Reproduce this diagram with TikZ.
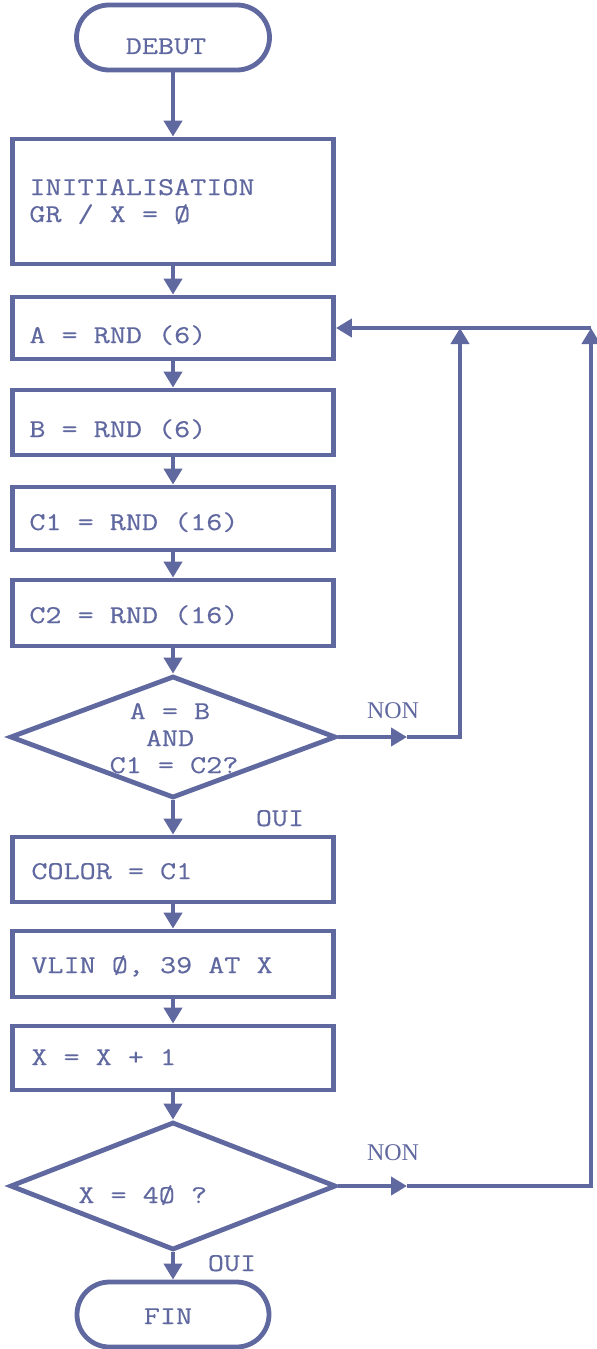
\documentclass[tikz,border=0pt]{standalone}
\usepackage{fontspec}
\newfontfamily\courfont[FakeStretch=1.22,FakeBold=0.4]{Latin Modern Mono}
\newfontfamily\nonfont{Liberation Serif}
\usetikzlibrary{arrows.meta,shapes.geometric,shapes.misc}
\definecolor{ink}{RGB}{96,104,160}
\begin{document}
\begin{tikzpicture}[x=0.5pt,y=-0.5pt,
  box/.style={draw=ink, line width=2.4pt, rectangle, minimum width=160.5pt, inner sep=0pt},
  stad/.style={draw=ink, line width=2.4pt, rounded rectangle, minimum width=96.5pt, minimum height=32.5pt, inner sep=0pt},
  dec/.style={draw=ink, line width=2.4pt, diamond, inner sep=0pt, minimum width=163pt},
  txt/.style={text=ink, font=\courfont\fontsize{12.8}{15}\selectfont, inner sep=0pt, anchor=base west},
  txtc/.style={txt, anchor=base},
  lab/.style={text=ink, font=\nonfont\fontsize{12}{14}\selectfont, inner sep=0pt, anchor=base},
  flow/.style={draw=ink, line width=2.4pt, line join=miter, -{Triangle[length=8pt,width=9pt]}}
]
\useasboundingbox (0,0) rectangle (597,1349);
% nodes
\node[stad] (debut) at (173,37.5) {};
\node[txtc] (tdebut) at (166,54) {DEBUT};
\node[box, minimum height=62.5pt] (init) at (173,201.5) {};
\node[txt] (tinit1) at (29,195) {INITIALISATION};
\node[txt] (tinit2) at (29,222) {GR / X = Ø};
\node[box, minimum height=31pt] (a) at (173,328) {};
\node[txt] (ta) at (29,343) {A = RND (6)};
\node[box, minimum height=32.5pt] (b) at (173,422.5) {};
\node[txt] (tb) at (29,437) {B = RND (6)};
\node[box, minimum height=31.5pt] (c1) at (173,518.5) {};
\node[txt] (tc1) at (29,530) {C1 = RND (16)};
\node[box, minimum height=33pt] (c2) at (173,613) {};
\node[txt] (tc2) at (29,623) {C2 = RND (16)};
\node[dec, minimum height=61pt] (d1) at (173,737) {};
\node[txtc] (td1a) at (170,719) {A = B};
\node[txtc] (td1b) at (170,746) {AND};
\node[txtc] (td1c) at (174,773) {C1 = C2?};
\node[box, minimum height=32.5pt] (color) at (173,869.5) {};
\node[txt] (tcolor) at (31,879) {COLOR = C1};
\node[box, minimum height=33pt] (vlin) at (173,964) {};
\node[txt] (tvlin) at (31,973) {VLIN Ø, 39 AT X};
\node[box, minimum height=32pt] (xinc) at (173,1058) {};
\node[txt] (txinc) at (31,1065) {X = X + 1};
\node[dec, minimum height=64pt] (d2) at (173,1186) {};
\node[txt] (td2) at (78,1203) {X = 4Ø ?};
\node[stad, minimum width=96pt] (fin) at (173,1314.5) {};
\node[txtc] (tfin) at (168,1324) {FIN};
% labels
\node[lab] (non1) at (393,718) {NON};
\node[txtc] (oui1) at (280,826) {OUI};
\node[lab] (non2) at (393,1160) {NON};
\node[txtc] (oui2) at (232,1271) {OUI};
% connectors
\draw[flow] (debut) -- (init);
\draw[flow] (init) -- (a);
\draw[flow] (a) -- (b);
\draw[flow] (b) -- (c1);
\draw[flow] (c1) -- (c2);
\draw[flow] (c2) -- (d1);
\draw[flow] (d1) -- (color);
\draw[flow] (color) -- (vlin);
\draw[flow] (vlin) -- (xinc);
\draw[flow] (xinc) -- (d2);
\draw[flow] (d2) -- (fin);
% loops
\coordinate (m1) at (407,737);
\coordinate (k1) at (460,737);
\coordinate (j1) at (460,328);
\coordinate (m2) at (407,1186);
\coordinate (k2) at (591,1186);
\coordinate (j2) at (591,328);
\draw[flow] (d1.east) -- (m1);
\draw[flow] (m1) -- (k1) -- (j1);
\draw[flow] (d2.east) -- (m2);
\draw[flow] (m2) -- (k2) -- (j2);
\draw[flow] (j2) -- (a.east);
\end{tikzpicture}
\end{document}
